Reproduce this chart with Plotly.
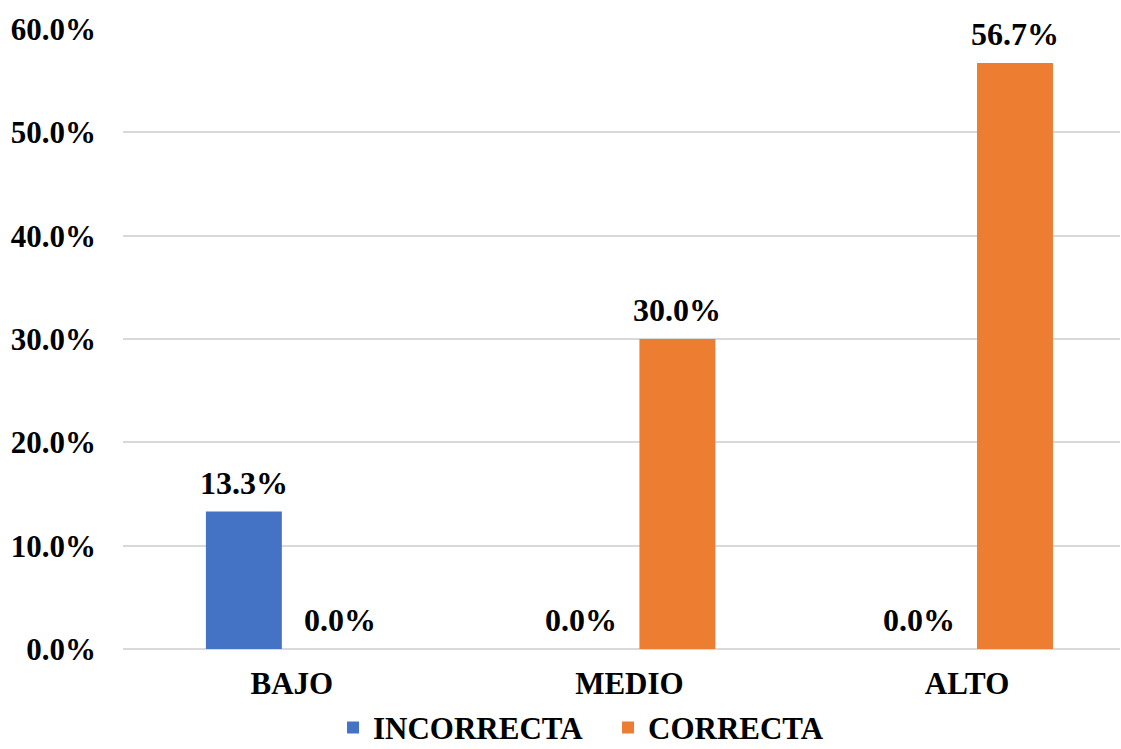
import plotly.graph_objects as go

categories = ["BAJO", "MEDIO", "ALTO"]
incorrecta = [13.3, 0.0, 0.0]
correcta = [0.0, 30.0, 56.7]
series_names = ["INCORRECTA", "CORRECTA"]
colors = ["#4472C4", "#ED7D31"]
y_ticks = [0, 10, 20, 30, 40, 50, 60]

FONT = "Liberation Serif, Times New Roman, serif"
FS = 31
fig = go.Figure()
for name, vals, col in zip(series_names, [incorrecta, correcta], colors):
    fig.add_trace(go.Bar(
        x=categories, y=vals, name=f"<b>{name}</b>", marker_color=col,
        marker_line_width=0,
    ))

# data labels as annotations anchored to each bar
shifts = [-48, 48]
for vals, xs in zip([incorrecta, correcta], shifts):
    for c, v in zip(categories, vals):
        fig.add_annotation(x=c, y=v, text=f"<b>{v:.1f}%</b>", showarrow=False,
                           xshift=xs, yshift=9, yanchor="bottom",
                           font=dict(family=FONT, size=32, color="black"))

fig.update_layout(
    width=1121, height=749,
    margin=dict(l=123, r=1, t=29, b=100, autoexpand=False),
    paper_bgcolor="white", plot_bgcolor="white",
    barmode="group", bargap=0.432, bargroupgap=0.208,
    font=dict(family=FONT, size=FS, color="black"),
    showlegend=True,
    legend=dict(orientation="h", xref="container", x=0.5424, xanchor="center",
                yref="paper", y=-0.127, yanchor="middle",
                entrywidth=230,
                font=dict(size=FS, family=FONT), itemclick=False),
)
fig.update_xaxes(range=[-0.5, 2.453], showgrid=False, showline=False,
                 ticks="", ticklabelstandoff=13,
                 tickvals=categories, ticktext=[f"<b>{c}</b>" for c in categories],
                 tickfont=dict(family=FONT, size=FS))
fig.update_yaxes(range=[0, 60], gridcolor="#D9D9D9", gridwidth=1.5, zeroline=True,
                 zerolinecolor="#D9D9D9", zerolinewidth=1.5, showline=False,
                 ticklabelstandoff=26,
                 tickvals=y_ticks, ticktext=[f"<b>{v:.1f}%</b>" for v in y_ticks],
                 tickfont=dict(family=FONT, size=FS))

fig.write_html("out.html")
